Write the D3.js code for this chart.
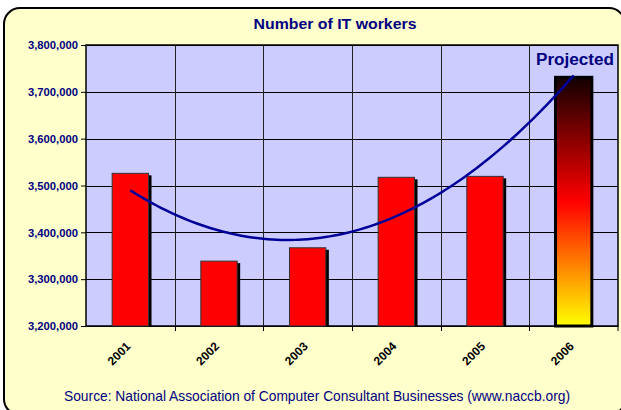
<!DOCTYPE html>
<html>
<head>
<meta charset="utf-8">
<script src="https://cdn.jsdelivr.net/npm/d3@7"></script>
<style>
  body { margin: 0; background: #fff; }
  text { font-family: "Liberation Sans", Arial, sans-serif; }
</style>
</head>
<body>
<div id="container"></div>
<script>
/* CONSTANTS AND GLOBALS */
const width = 621,
  height = 410,
  margin = { top: 45, bottom: 84, left: 86, right: 3 };

/* DATA */
const years = ["2001", "2002", "2003", "2004", "2005", "2006"];
const workers = [3526000, 3338500, 3367000, 3517500, 3519500, 3731000];
const projected = ["2006"];
const yTicks = [3200000, 3300000, 3400000, 3500000, 3600000, 3700000, 3800000];

const navy = "#000080";

/* SVG */
const svg = d3.select("#container")
  .append("svg")
  .attr("width", width)
  .attr("height", height);

// outer rounded frame
svg.append("rect")
  .attr("x", 4).attr("y", 8)
  .attr("width", 621).attr("height", 407)
  .attr("rx", 16).attr("ry", 16)
  .attr("fill", "#ffffcc")
  .attr("stroke", "#000")
  .attr("stroke-width", 2);

/* SCALES */
const xScale = d3.scaleBand()
  .domain(years)
  .range([margin.left, width - margin.right])
  .paddingInner(0)
  .paddingOuter(0);

const yScale = d3.scaleLinear()
  .domain([3200000, 3800000])
  .range([height - margin.bottom, margin.top]);

const x0 = margin.left, x1 = width - margin.right;
const y0 = yScale(3200000), y1 = yScale(3800000);

// plot area
svg.append("rect")
  .attr("x", x0).attr("y", y1)
  .attr("width", x1 - x0).attr("height", y0 - y1)
  .attr("fill", "#ccccff");

// gradient for projected bar
const defs = svg.append("defs");
const grad = defs.append("linearGradient")
  .attr("id", "proj")
  .attr("x1", 0).attr("y1", 0).attr("x2", 0).attr("y2", 1);
grad.append("stop").attr("offset", "0%").attr("stop-color", "#120000");
grad.append("stop").attr("offset", "50%").attr("stop-color", "#ff0000");
grad.append("stop").attr("offset", "100%").attr("stop-color", "#ffff00");

// gridlines
svg.append("g")
  .selectAll("line.hgrid")
  .data(yTicks)
  .join("line")
  .attr("class", "hgrid")
  .attr("x1", x0).attr("x2", x1)
  .attr("y1", d => Math.round(yScale(d)) + 0.5)
  .attr("y2", d => Math.round(yScale(d)) + 0.5)
  .attr("stroke", "#000")
  .attr("stroke-width", 1);

svg.append("g")
  .selectAll("line.vgrid")
  .data(years.slice(1))
  .join("line")
  .attr("class", "vgrid")
  .attr("x1", d => Math.round(xScale(d)) + 0.5)
  .attr("x2", d => Math.round(xScale(d)) + 0.5)
  .attr("y1", y1).attr("y2", y0)
  .attr("stroke", "#222")
  .attr("stroke-width", 1);

// plot border
svg.append("rect")
  .attr("x", x0).attr("y", y1)
  .attr("width", x1 - x0).attr("height", y0 - y1)
  .attr("fill", "none")
  .attr("stroke", "#000")
  .attr("stroke-width", 1.5);

/* BARS */
const data = years.map((y, i) => ({ year: y, value: workers[i], proj: projected.includes(y) }));
const barW = xScale.bandwidth() * 0.41;
const bx = d => xScale(d.year) + (xScale.bandwidth() - barW) / 2;

// shadows
svg.append("g")
  .selectAll("rect.shadow")
  .data(data.filter(d => !d.proj))
  .join("rect")
  .attr("class", "shadow")
  .attr("x", d => bx(d) + 3)
  .attr("y", d => yScale(d.value) + 2)
  .attr("width", barW)
  .attr("height", d => y0 - yScale(d.value) - 2)
  .attr("fill", "#000");

svg.append("g")
  .selectAll("rect.bar")
  .data(data)
  .join("rect")
  .attr("class", "bar")
  .attr("x", d => bx(d))
  .attr("y", d => yScale(d.value))
  .attr("width", barW)
  .attr("height", d => y0 - yScale(d.value))
  .attr("fill", d => d.proj ? "url(#proj)" : "#ff0000")
  .attr("stroke", d => d.proj ? "#000" : "#333")
  .attr("stroke-width", d => d.proj ? 3 : 1);

/* TRENDLINE (2nd order polynomial, least squares) */
const n = workers.length;
const xs = workers.map((_, i) => i + 1);
const sums = k => d3.sum(xs, x => Math.pow(x, k));
const sumsY = k => d3.sum(xs, (x, i) => Math.pow(x, k) * workers[i]);
// solve 3x3 normal equations
const A = [
  [n, sums(1), sums(2)],
  [sums(1), sums(2), sums(3)],
  [sums(2), sums(3), sums(4)]
];
const B = [sumsY(0), sumsY(1), sumsY(2)];
function solve(M, v) {
  const m = M.map((r, i) => [...r, v[i]]);
  for (let c = 0; c < 3; c++) {
    let p = c;
    for (let r = c + 1; r < 3; r++) if (Math.abs(m[r][c]) > Math.abs(m[p][c])) p = r;
    [m[c], m[p]] = [m[p], m[c]];
    for (let r = 0; r < 3; r++) {
      if (r === c) continue;
      const f = m[r][c] / m[c][c];
      for (let k = c; k < 4; k++) m[r][k] -= f * m[c][k];
    }
  }
  return m.map((r, i) => r[3] / r[i]);
}
const coef = solve(A, B);
const trendPts = d3.range(1, 6.001, 0.05).map(x => [x, coef[0] + coef[1] * x + coef[2] * x * x]);
const trendX = x => xScale(years[0]) + xScale.bandwidth() * (x - 0.5);

svg.append("path")
  .datum(trendPts)
  .attr("fill", "none")
  .attr("stroke", "#000099")
  .attr("stroke-width", 2.5)
  .attr("d", d3.line().x(d => trendX(d[0])).y(d => yScale(d[1])).curve(d3.curveBasis));

/* AXES */
const yAxis = d3.axisLeft(yScale)
  .tickValues(yTicks)
  .tickSize(5)
  .tickFormat(d3.format(","));

svg.append("g")
  .attr("transform", `translate(${x0},0)`)
  .call(yAxis)
  .call(g => g.select(".domain").remove())
  .call(g => g.selectAll("line").attr("stroke", "#000"))
  .call(g => g.selectAll("text")
    .attr("x", -8)
    .attr("fill", navy)
    .attr("font-weight", "bold")
    .attr("font-size", 11.5)
    .attr("textLength", 50)
    .attr("lengthAdjust", "spacingAndGlyphs")
    .style("font-family", "'Liberation Sans', Arial, sans-serif"));

// x ticks at category boundaries
svg.append("g")
  .selectAll("line.xtick")
  .data(years.slice(1).concat(["end"]))
  .join("line")
  .attr("class", "xtick")
  .attr("x1", d => d === "end" ? x1 : Math.round(xScale(d)) + 0.5)
  .attr("x2", d => d === "end" ? x1 : Math.round(xScale(d)) + 0.5)
  .attr("y1", y0).attr("y2", y0 + 5)
  .attr("stroke", "#000");

svg.append("g")
  .selectAll("text.xlab")
  .data(years)
  .join("text")
  .attr("class", "xlab")
  .attr("transform", d => `translate(${xScale(d) + xScale.bandwidth() / 2 + 1},${y0 + 21}) rotate(-45)`)
  .attr("text-anchor", "end")
  .attr("font-size", 12)
  .attr("font-weight", "bold")
  .attr("fill", "#000")
  .text(d => d);

/* TEXTS */
svg.append("text")
  .attr("x", 335).attr("y", 29)
  .attr("text-anchor", "middle")
  .attr("font-size", 15.5)
  .attr("font-weight", "bold")
  .attr("fill", navy)
  .attr("textLength", 163)
  .attr("lengthAdjust", "spacingAndGlyphs")
  .text("Number of IT workers");

svg.append("text")
  .attr("x", 536).attr("y", 65)
  .attr("font-size", 16)
  .attr("font-weight", "bold")
  .attr("fill", navy)
  .attr("textLength", 78)
  .attr("lengthAdjust", "spacingAndGlyphs")
  .text("Projected");

svg.append("text")
  .attr("x", 64).attr("y", 401)
  .attr("font-size", 15)
  .attr("fill", navy)
  .attr("textLength", 506)
  .attr("lengthAdjust", "spacingAndGlyphs")
  .text("Source: National Association of Computer Consultant Businesses (www.naccb.org)");
</script>
</body>
</html>
